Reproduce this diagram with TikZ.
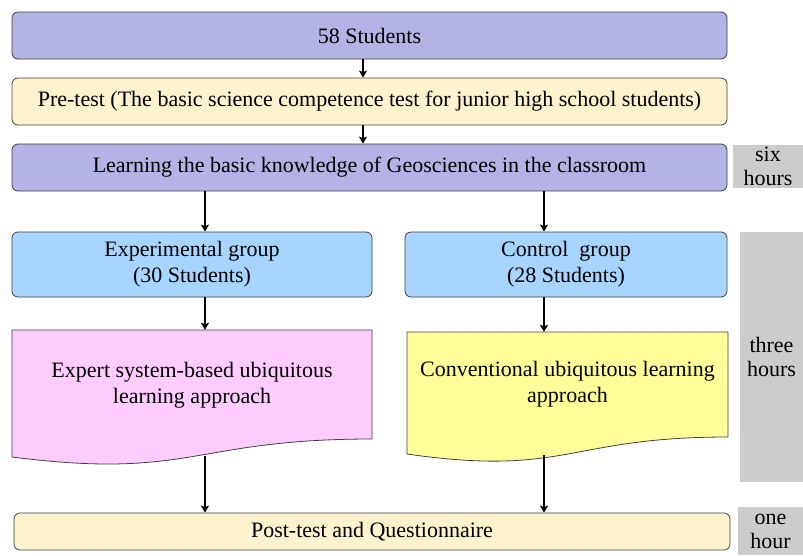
\documentclass[tikz,border=0pt]{standalone}
\usepackage{fontspec}
\setmainfont{Liberation Serif}
\usetikzlibrary{arrows.meta}
\definecolor{lilac}{HTML}{B3B3E6}
\definecolor{cream}{HTML}{FDF2CE}
\definecolor{skyblue}{HTML}{A8D5FF}
\definecolor{pinkish}{HTML}{FFCCFF}
\definecolor{paleyellow}{HTML}{FFFF99}
\definecolor{timegray}{HTML}{CCCCCC}

\begin{document}
\begin{tikzpicture}[x=1pt,y=-1pt]
% Define styles
\tikzstyle{box} = [rectangle, draw=black!75, line width=0.8pt, rounded corners=6pt, inner sep=0pt, align=center, font=\fontsize{22}{26}\selectfont]
\tikzstyle{doc} = [draw=black!75, line width=0.8pt]
\tikzstyle{doctext} = [inner sep=0pt, align=center, font=\fontsize{22}{26}\selectfont]
\tikzstyle{time} = [rectangle, fill=timegray, inner sep=0pt, align=center, font=\fontsize{22}{24}\selectfont]
\tikzstyle{arrow} = [line width=1.5pt, -{Stealth[length=7pt,width=8pt,inset=1.5pt]}]
\useasboundingbox (0,0) rectangle (803,555);
% Define nodes
\node[box, fill=lilac, minimum width=715, minimum height=47] (students) at (369.5,35.5) {58 Students};
\node[box, fill=cream, minimum width=715, minimum height=47] (pretest) at (369.5,101.5) {Pre-test (The basic science competence test for junior high school students)};
\node[box, fill=lilac, minimum width=715, minimum height=47] (learning) at (369.5,167.5) {Learning the basic knowledge of Geosciences in the classroom};
\node[box, fill=skyblue, minimum width=360, minimum height=65] (expgroup) at (192,264.5) {Experimental group\\(30 Students)};
\node[box, fill=skyblue, minimum width=322, minimum height=65] (ctrlgroup) at (566,264.5) {Control\ \ group\\(28 Students)};
% document shapes
\draw[doc, fill=pinkish] (12,330) -- (372,330) -- (372,439) .. controls (192,439) and (192,480) .. (12,457) -- cycle;
\draw[doc, fill=paleyellow] (407,332) -- (728,332) -- (728,437) .. controls (567,437) and (567,477) .. (407,454) -- cycle;
\node[doctext, minimum width=360, minimum height=110] (expdoc) at (192,385) {Expert system-based ubiquitous\\learning approach};
\node[doctext, minimum width=321, minimum height=105] (ctrldoc) at (567.5,384.5) {Conventional ubiquitous learning\\approach};
\node[box, fill=cream, minimum width=716, minimum height=37] (posttest) at (372,531.5) {Post-test and Questionnaire};
% time spans
\node[time, minimum width=70, minimum height=43] (six) at (768,166.5) {six\\hours};
\node[time, minimum width=63, minimum height=250] (three) at (771.5,357) {three\\hours};
\node[time, minimum width=65, minimum height=48] (one) at (770.5,531) {one\\hour};
% arrow columns
\coordinate (midcol) at (363,0);
\coordinate (leftcol) at (205,0);
\coordinate (rightcol) at (544,0);
\coordinate (expend) at (205,456);
\coordinate (ctrlend) at (544,455);
% Connect the nodes
\draw[arrow] (students.south -| midcol) -- (pretest.north -| midcol);
\draw[arrow] (pretest.south -| midcol) -- (learning.north -| midcol);
\draw[arrow] (learning.south -| leftcol) -- (expgroup.north -| leftcol);
\draw[arrow] (learning.south -| rightcol) -- (ctrlgroup.north -| rightcol);
\draw[arrow] (expgroup.south -| leftcol) -- (expdoc.north -| leftcol);
\draw[arrow] (ctrlgroup.south -| rightcol) -- (ctrldoc.north -| rightcol);
\draw[arrow] (expend) -- (posttest.north -| expend);
\draw[arrow] (ctrlend) -- (posttest.north -| ctrlend);
\end{tikzpicture}
\end{document}
